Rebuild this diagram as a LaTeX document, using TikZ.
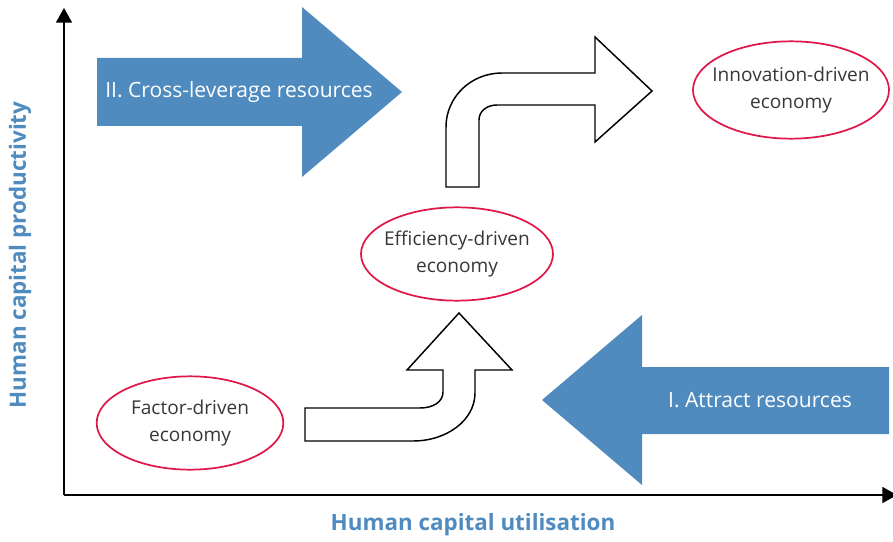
\documentclass[tikz,border=0pt]{standalone}
\usepackage{fontspec}
\setmainfont{Open Sans}
\usepackage{tikz}
\usetikzlibrary{arrows.meta,shapes,positioning}
\definecolor{steelblue}{RGB}{79,139,191}
\definecolor{crimson}{RGB}{224,24,74}
\definecolor{darktext}{RGB}{55,55,55}

\begin{document}
\begin{tikzpicture}[x=0.75pt, y=-0.75pt, >={Triangle[length=11pt,width=12pt]},
  every text node part/.style={align=center},
  economy/.style={draw=crimson, line width=1.3pt, ellipse, inner xsep=-7pt, inner ysep=0pt, minimum width=140pt, minimum height=70pt, text=darktext, font=\fontsize{14.3}{20.5}\selectfont},
  blockarrow/.style={fill=steelblue, draw=none},
  bentarrow/.style={draw=black, line width=1.1pt, fill=white, line join=miter},
  arrowtext/.style={text=white, font=\fontsize{15.8}{18}\selectfont},
  axistext/.style={text=steelblue, font=\bfseries\fontsize{16.8}{19}\selectfont}]
\useasboundingbox (0,0) rectangle (893,542);

% axes
\coordinate (origin) at (64,495);
\coordinate (ytop) at (64,8);
\coordinate (xend) at (897,495);
\draw[line width=1.2pt, ->] (origin) -- (ytop);
\draw[line width=1.2pt, ->] (origin) -- (xend);
\node[axistext] (xlabel) at (473,525) {Human capital utilisation};
\node[axistext, rotate=90] (ylabel) at (20,255) {Human capital productivity};

% blue arrows
\fill[blockarrow] (97,58) -- (302,58) -- (302,7) -- (402,92) -- (302,177) -- (302,126) -- (97,126) -- cycle;
\node[arrowtext] (crossnode) at (239,92) {II. Cross-leverage resources};
\fill[blockarrow] (889,367) -- (642,367) -- (642,315) -- (542,400) -- (642,485) -- (642,434) -- (889,434) -- cycle;
\node[arrowtext] (attractnode) at (760,400) {I. Attract resources};

% bent arrows
\draw[bentarrow] (305,408) -- (420,408) .. controls (433,408) and (443,402) .. (443,392) -- (443,370) -- (407,370) -- (459,313) -- (512,370) -- (475,370) -- (475,393) .. controls (475,420) and (447,441) .. (413,441) -- (305,441) -- cycle;
\draw[bentarrow] (446,187) -- (446,127) .. controls (446,97) and (471,73) .. (502,73) -- (595,73) -- (595,37) -- (652,91) -- (595,142) -- (595,105) -- (497,105) .. controls (487,105) and (479,111) .. (479,120) -- (479,187) -- cycle;

% stages
\node[economy] (factor) at (190,423) {Factor-driven\\economy};
\node[economy, minimum width=144pt] (efficiency) at (457,254) {Efficiency-driven\\economy};
\node[economy, minimum width=147pt, minimum height=73pt] (innovation) at (791,90) {Innovation-driven\\economy};
\end{tikzpicture}
\end{document}
